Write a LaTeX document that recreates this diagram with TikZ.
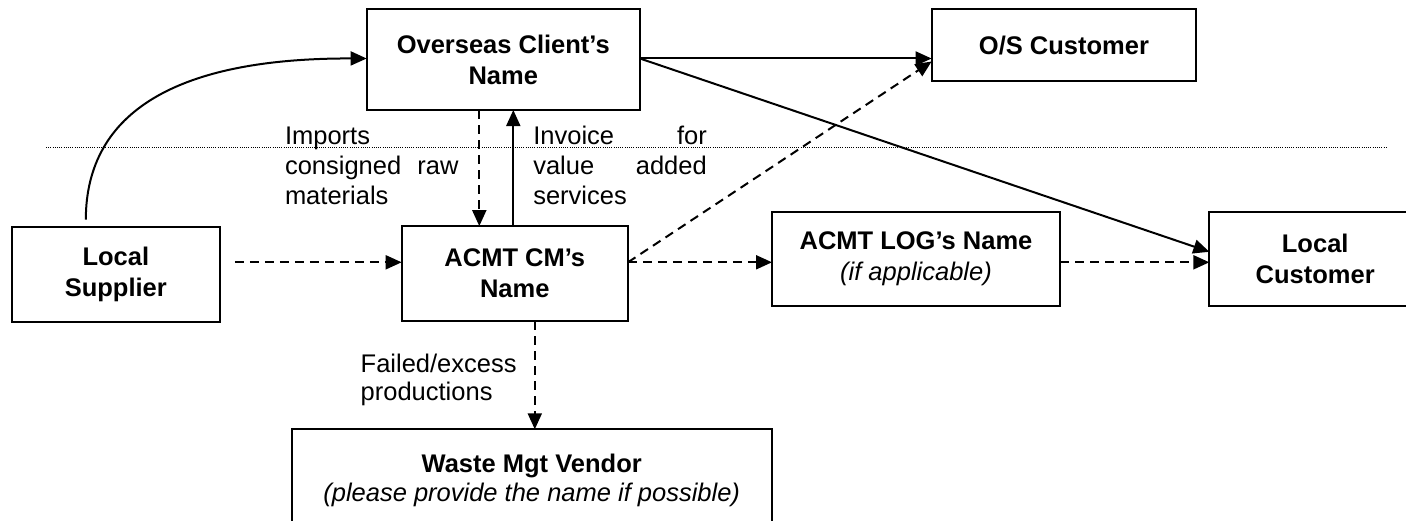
\documentclass[tikz,border=0pt]{standalone}
\usepackage{fontspec}
\setmainfont{Liberation Sans}
\usetikzlibrary{arrows.meta,calc}
\begin{document}
\begin{tikzpicture}[x=1pt,y=-1pt,
  box/.style={draw, line width=2pt, inner sep=0pt, outer sep=0pt, align=center,
    font=\fontsize{25.5}{31}\selectfont\bfseries},
  lowtext/.style={execute at begin node={\rule{0pt}{26pt}}},
  lbl/.style={inner sep=0pt, outer sep=0pt, anchor=base west,
    font=\fontsize{25.5}{30}\selectfont},
  conn/.style={line width=2pt, -{Triangle[length=16pt,width=14pt]}},
  dconn/.style={conn, dash pattern=on 9pt off 6pt},
  sep/.style={line width=1pt, dash pattern=on 1pt off 1.2pt}]
\useasboundingbox (0,0) rectangle (1406,521);
\fill[white] (0,0) rectangle (1406,521);
\clip (0,0) rectangle (1406,521);

% separator line
\draw[sep] (46,148) -- (1387,148);

% boxes
\node[box, minimum width=273.3pt, minimum height=100.7pt] (over) at (503.3,59.7) {Overseas Client’s\\Name};
\node[box, minimum width=264.8pt, minimum height=71.7pt] (os) at (1064,45.2) {O/S Customer};
\node[box, lowtext, minimum width=208.3pt, minimum height=95pt] (sup) at (115.8,274.2) {Local\\Supplier};
\node[box, lowtext, minimum width=226.3pt, minimum height=95pt] (cm) at (514.8,273.6) {ACMT CM’s\\Name};
\node[box, lowtext, minimum width=288pt, minimum height=94.3pt] (log) at (916,258.8) {ACMT LOG’s Name\\{\mdseries\itshape (if applicable)}};
\node[box, lowtext, minimum width=211.7pt, minimum height=94.3pt] (cust) at (1315.2,258.8) {Local\\Customer};
\node[box, minimum width=480pt, minimum height=103pt, font=\fontsize{25.5}{29}\selectfont\bfseries] (waste) at (531.7,480.8) {Waste Mgt Vendor\\{\mdseries\itshape (please provide the name if possible)}};

% labels
\node[lbl] (limp) at (285,145) {\parbox[t]{173.5pt}{\fontsize{25.5}{30}\selectfont Imports\\consigned\hfill raw\\materials}};
\node[lbl] (linv) at (533.3,145) {\parbox[t]{173.5pt}{\fontsize{25.5}{30}\selectfont Invoice\hfill for\\value\hfill added\\services}};
\node[lbl] (lfail) at (360.7,372.7) {\parbox[t]{200pt}{\fontsize{25.5}{28}\selectfont Failed/excess\\productions}};

% helper level for horizontal dashed flows
\coordinate (mid) at (0,262.3);

% connectors
\draw[conn] ([xshift=-30pt,yshift=7pt]sup.north) .. controls (86,110) and (180,58) .. (over.west |- 0,58.5);
\draw[conn] (over.east |- 0,58.5) -- (os.west |- 0,58.5);
\draw[conn] (over.east |- 0,58.5) -- ([yshift=7pt]cust.west);
\draw[dconn] (cm.east |- mid) -- ([yshift=-3pt]os.west |- 0,58.5);
\draw[dconn] ([xshift=-24pt]over.south) -- ([xshift=-24pt]over.south |- cm.north);
\draw[conn] ([xshift=10pt]over.south |- cm.north) -- ([xshift=10pt]over.south);
\draw[dconn] ([xshift=15pt]sup.east |- mid) -- (cm.west |- mid);
\draw[dconn] (cm.east |- mid) -- (log.west |- mid);
\draw[dconn] (log.east |- mid) -- (cust.west |- mid);
\draw[dconn] ([xshift=20pt]cm.south) -- ([xshift=20pt]cm.south |- waste.north);
\end{tikzpicture}
\end{document}
